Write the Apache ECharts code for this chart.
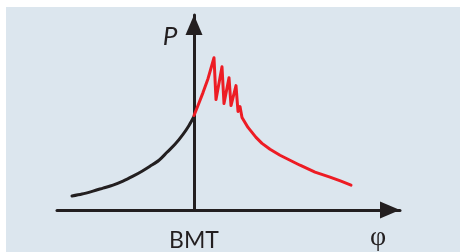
<!DOCTYPE html>
<html>
<head>
<meta charset="utf-8">
<script src="https://cdn.jsdelivr.net/npm/echarts@6/dist/echarts.min.js"></script>
<style>
  html, body { margin: 0; padding: 0; background: #fff; }
  #chart { width: 460px; height: 252px; }
</style>
</head>
<body>
<div id="chart"></div>
<script>
// curve before BMT (phi, P)
const beforeBMT = [
  [-122, 14], [-112, 16], [-101, 19], [-91, 22], [-81, 25], [-71, 29],
  [-61, 34], [-52, 39], [-44, 44], [-35, 50], [-27, 58], [-19, 66],
  [-11, 76], [-5, 85], [0, 94]
];
// curve after BMT, with knocking oscillation
const afterBMT = [
  [0, 95], [4, 105], [9, 118], [14, 132], [18, 146], [20, 153],
  [22, 111], [28, 144], [30, 107], [35, 133], [37, 105], [42, 125],
  [44, 99], [46, 104], [48, 93], [51, 88], [54, 83], [58, 78],
  [62, 73], [68, 67], [76, 61], [86, 55], [96, 50], [106, 45],
  [121, 38], [136, 33], [147, 29], [157, 25]
];
const xLabels = { 0: 'BMT' };

const ink = '#231f20';
const chart = echarts.init(document.getElementById('chart'));

chart.setOption({
  animation: false,
  backgroundColor: '#ffffff',
  graphic: [{
    type: 'rect', z: -10, silent: true,
    shape: { x: 6, y: 7, width: 460, height: 252 },
    style: { fill: '#dce6ee' }
  }],
  grid: { left: 57, right: 60, top: 15, bottom: 41 },
  xAxis: {
    type: 'value', min: -137, max: 206, interval: 137,
    name: 'φ', nameLocation: 'end', nameGap: -22,
    nameTextStyle: { fontFamily: 'Liberation Serif', fontSize: 28, color: ink, align: 'center', verticalAlign: 'top', padding: [14, 0, 0, 0] },
    axisLine: { lineStyle: { color: ink, width: 3 }, symbol: ['none', 'triangle'], symbolSize: [17, 20], symbolOffset: [0, -10] },
    axisTick: { show: false },
    splitLine: { show: false },
    axisLabel: {
      margin: 19, fontFamily: 'Lato', fontSize: 23, color: ink,
      formatter: v => xLabels[v] || ''
    }
  },
  yAxis: {
    type: 'value', min: 0, max: 196,
    name: 'P', nameLocation: 'end', nameGap: -22,
    nameTextStyle: { fontFamily: 'Lato', fontStyle: 'italic', fontSize: 26, color: ink, align: 'center', verticalAlign: 'middle', padding: [0, 48, 0, 0] },
    axisLine: { lineStyle: { color: ink, width: 3 }, symbol: ['none', 'triangle'], symbolSize: [17, 20], symbolOffset: [0, -10] },
    axisTick: { show: false },
    splitLine: { show: false },
    axisLabel: { show: false }
  },
  series: [
    {
      type: 'line', data: beforeBMT, showSymbol: false, smooth: 0.3,
      lineStyle: { color: ink, width: 3, cap: 'round' }
    },
    {
      type: 'line', data: afterBMT, showSymbol: false,
      lineStyle: { color: '#ed1c24', width: 3, cap: 'round', join: 'round' }
    }
  ]
});
</script>
</body>
</html>
